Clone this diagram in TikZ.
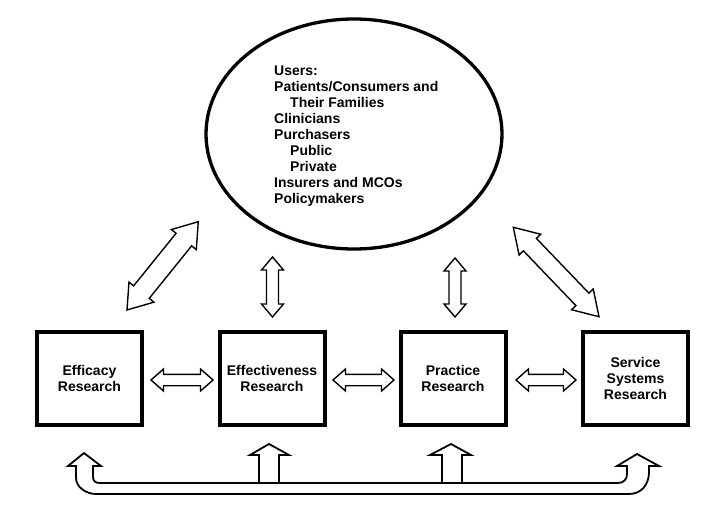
\documentclass[tikz,border=0pt]{standalone}
\usepackage{fontspec}
\setmainfont{Liberation Sans}
\usetikzlibrary{calc,shapes.geometric}
% block double arrow from #1 to #2: shaft half width #3, head half width #4, head length #5
\newcommand\blockarrow[5]{%
  \draw[arrowline] (#1)
    -- ($(#1)!#5!(#2)!#4!90:(#2)$) -- ($(#1)!#5!(#2)!#3!90:(#2)$)
    -- ($(#2)!#5!(#1)!#3!-90:(#1)$) -- ($(#2)!#5!(#1)!#4!-90:(#1)$)
    -- (#2)
    -- ($(#2)!#5!(#1)!#4!90:(#1)$) -- ($(#2)!#5!(#1)!#3!90:(#1)$)
    -- ($(#1)!#5!(#2)!#3!-90:(#2)$) -- ($(#1)!#5!(#2)!#4!-90:(#2)$)
    -- cycle;}
\begin{document}
\begin{tikzpicture}[x=1pt,y=-1pt,
  txt/.style={font=\bfseries\fontsize{14}{16}\selectfont},
  box/.style={draw, line width=4pt, minimum width=105pt, minimum height=93pt,
    inner sep=0pt, align=center, txt},
  arrowline/.style={draw, line width=1.4pt, line join=miter, fill=white},
  barline/.style={draw, line width=1.8pt, line join=miter}]
\useasboundingbox[fill=white] (0,0) rectangle (705,522);

% users ellipse
\node[ellipse, draw, line width=3.3pt, minimum width=296pt, minimum height=230pt,
  inner sep=0pt] (users) at (354,134) {};
\node[anchor=north west, align=left, inner sep=0pt, txt] (userstext) at (274,66)
  {Users:\\Patients/Consumers and\\\hspace*{16pt}Their Families\\Clinicians\\Purchasers\\
   \hspace*{16pt}Public\\\hspace*{16pt}Private\\Insurers and MCOs\\Policymakers};

% research boxes
\node[box] (eff)    at (89.5,378.5) {Efficacy\\Research};
\node[box] (effect) at (272,378.5)  {Effectiveness\\Research};
\node[box] (prac)   at (453,378.5)  {Practice\\Research};
\node[box] (serv)   at (635.5,378.5){Service\\Systems\\Research};

% arrow end points
\coordinate (h1a) at (151,380); \coordinate (h1b) at (213,380);
\coordinate (h2a) at (333,380); \coordinate (h2b) at (394,380);
\coordinate (h3a) at (516,380); \coordinate (h3b) at (576,380);
\coordinate (v1a) at (272.5,257); \coordinate (v1b) at (272.5,317);
\coordinate (v2a) at (455,258); \coordinate (v2b) at (455,317);
\coordinate (d1a) at (127,310); \coordinate (d1b) at (198.3,221.7);
\coordinate (d2a) at (513.3,227.3); \coordinate (d2b) at (599,316.7);

\blockarrow{h1a}{h1b}{5.7pt}{11pt}{12.5pt}
\blockarrow{h2a}{h2b}{5.7pt}{11pt}{12.5pt}
\blockarrow{h3a}{h3b}{5.7pt}{11pt}{12.5pt}
\blockarrow{v1a}{v1b}{6pt}{11pt}{13pt}
\blockarrow{v2a}{v2b}{6pt}{11pt}{13pt}
\blockarrow{d1a}{d1b}{10pt}{16pt}{23pt}
\blockarrow{d2a}{d2b}{9pt}{15pt}{24pt}

% bottom feedback arrow
\draw[barline, fill=white] (68,466) -- (84,453) -- (101,466) -- (93,466) -- (93,476)
  .. controls (93,481) and (95,483) .. (100,483) -- (618,483)
  .. controls (624,483) and (627,479) .. (627,474) -- (627,466) -- (617,466)
  -- (637,454) -- (659,466) -- (649,466) -- (649,472)
  .. controls (649,485) and (641,494) .. (629,494) -- (96,494)
  .. controls (86,494) and (76,487) .. (76,478) -- (76,466) -- cycle;
\draw[barline] (259,483) -- (259,455) -- (250,455) -- (269,444) -- (289,455) -- (279,455) -- (279,483);
\draw[barline] (442,483) -- (442,455) -- (430,455) -- (451,444) -- (471,455) -- (462,455) -- (462,483);
\end{tikzpicture}
\end{document}
